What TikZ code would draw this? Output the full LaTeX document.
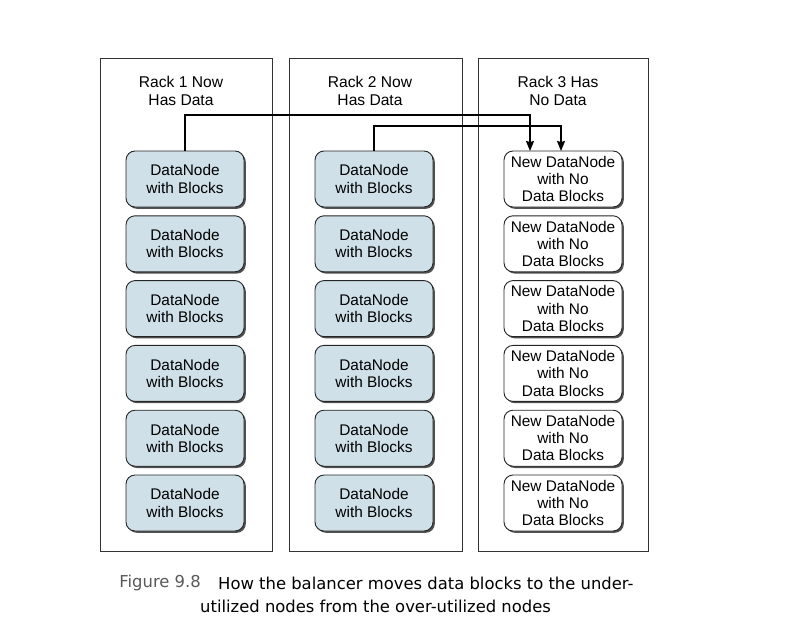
\documentclass[tikz,border=0pt]{standalone}
\usepackage{fontspec}
\setmainfont{Liberation Sans}
\newfontfamily\capfont{DejaVu Sans}
\usetikzlibrary{shadows,arrows.meta}
\definecolor{nodeblue}{RGB}{207,224,232}
\begin{document}
\begin{tikzpicture}[x=1pt,y=-1pt,
  rack/.style={draw=black!80,line width=0.8pt},
  dn/.style={draw=black!85,line width=0.9pt,rounded corners=9pt,minimum width=118pt,minimum height=56pt,
    align=center,font=\fontsize{15.4}{17.2}\selectfont,inner sep=0pt,
    drop shadow={shadow xshift=1.8pt,shadow yshift=-1.8pt,fill=black!80,opacity=0.85}},
  full/.style={dn,fill=nodeblue},
  empty/.style={dn,fill=white},
  ttl/.style={align=center,font=\fontsize{15.6}{18}\selectfont},
  captext/.style={anchor=west,font=\capfont\fontsize{16.4}{23}\selectfont,inner sep=0pt},
  conn/.style={line width=1.3pt,-{Stealth[length=10pt,width=8pt,inset=1pt]}}]
\useasboundingbox (0,0) rectangle (786,642);
\draw[rack] (100,58) rectangle (272,551);
\draw[rack] (289,58) rectangle (462,551);
\draw[rack] (478,58) rectangle (648,551);
\node[ttl] (t1) at (181,91) {Rack 1 Now\\Has Data};
\node[ttl] (t2) at (370,91) {Rack 2 Now\\Has Data};
\node[ttl] (t3) at (558,91) {Rack 3 Has\\No Data};
\foreach \i in {0,...,5}{
  \node[full] (a\i) at (185,{179+64.8*\i}) {DataNode\\with Blocks};
  \node[full] (b\i) at (374,{179+64.8*\i}) {DataNode\\with Blocks};
  \node[empty] (c\i) at (563,{179+64.8*\i}) {New DataNode\\with No\\Data Blocks};
}
\coordinate (e1) at (530,151);
\coordinate (e2) at (561,151);
\draw[conn] (a0.north) |- (185,115) -| (e1);
\draw[conn] (b0.north) |- (373,126) -| (e2);
\node[captext,anchor=east,text=black!65] (fig) at (201,583) {Figure 9.8};
\node[captext] (cap1) at (218,583) {How the balancer moves data blocks to the under-};
\node[captext] (cap2) at (200,606) {utilized nodes from the over-utilized nodes};
\end{tikzpicture}
\end{document}
